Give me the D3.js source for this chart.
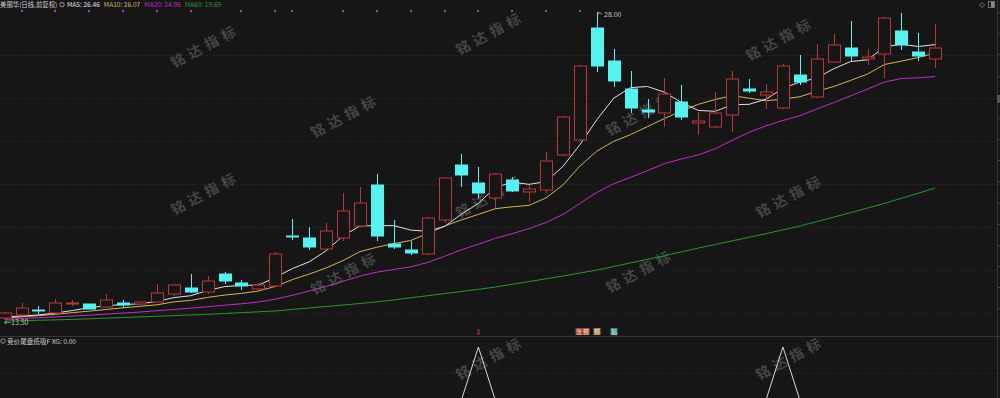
<!DOCTYPE html>
<html>
<head>
<meta charset="utf-8">
<script src="https://cdn.jsdelivr.net/npm/d3@7/dist/d3.min.js"></script>
<style>
  html, body { margin: 0; padding: 0; background: #161616; overflow: hidden; }
  svg { display: block; font-family: "Noto Sans CJK SC", "Noto Sans", sans-serif; }
</style>
</head>
<body>
<svg id="chart"></svg>
<script>
// daily bars, oldest first (prices)
const opens = [13.55, 13.69, 13.92, 13.78, 14.21, 14.21, 14.06, 14.25, 14.21, 14.30,
  14.68, 14.96, 14.77, 15.62, 15.20, 14.91, 15.06, 17.42, 17.32, 16.80,
  17.32, 17.89, 19.83, 17.04, 16.76, 16.57, 18.17, 20.77, 19.92, 19.21,
  20.06, 19.50, 19.59, 21.24, 21.95, 27.24, 25.69, 24.36, 23.37, 23.23,
  23.75, 22.76, 22.57, 23.13, 24.36, 24.08, 23.46, 25.02, 23.98, 25.64,
  26.30, 25.78, 26.02, 27.10, 26.11, 25.78];
const highs = [13.83, 14.25, 14.11, 14.44, 14.40, 14.23, 14.68, 14.40, 14.32, 15.15,
  15.15, 15.62, 15.53, 15.72, 15.34, 15.20, 16.66, 18.22, 17.84, 18.03,
  19.45, 19.73, 20.35, 18.17, 17.18, 18.30, 20.20, 21.29, 20.68, 20.40,
  20.21, 19.83, 21.39, 23.10, 25.50, 28.00, 26.25, 25.21, 23.89, 24.88,
  24.55, 23.28, 24.22, 25.21, 24.83, 24.60, 25.54, 25.97, 26.49, 26.96,
  27.57, 26.25, 27.75, 27.95, 27.01, 27.43];
const lows = [13.50, 13.64, 13.74, 13.78, 14.11, 13.95, 14.04, 14.02, 14.18, 14.28,
  14.58, 14.73, 14.68, 15.15, 14.87, 14.85, 15.00, 17.23, 16.76, 16.78,
  17.18, 17.85, 17.18, 16.80, 16.52, 16.50, 18.03, 19.73, 19.21, 18.74,
  19.50, 19.02, 19.45, 21.20, 21.90, 25.17, 24.46, 23.23, 23.00, 22.57,
  22.90, 22.19, 22.52, 22.33, 24.17, 23.42, 23.42, 24.55, 23.95, 25.59,
  25.64, 25.50, 24.88, 26.20, 25.69, 25.35];
const closes = [13.78, 14.02, 13.88, 14.25, 14.25, 13.97, 14.40, 14.16, 14.30, 14.73,
  15.10, 14.77, 15.29, 15.29, 15.06, 15.10, 16.57, 17.37, 16.90, 17.65,
  18.60, 18.98, 17.42, 16.90, 16.62, 18.27, 20.16, 20.30, 19.45, 20.35,
  19.54, 19.64, 20.96, 23.04, 25.45, 25.45, 24.74, 23.46, 23.28, 24.13,
  23.04, 22.85, 23.23, 24.83, 24.27, 24.22, 25.45, 24.69, 25.78, 26.44,
  25.92, 25.87, 27.72, 26.44, 25.92, 26.30];

// moving averages as drawn
const ma5 = [13.60, 13.64, 13.69, 13.78, 13.90, 14.03, 14.13, 14.18, 14.22, 14.33,
  14.51, 14.60, 14.85, 15.03, 15.09, 15.10, 15.46, 15.88, 16.20, 16.72,
  17.42, 17.90, 17.91, 17.91, 17.70, 17.64, 17.87, 18.45, 18.96, 19.71,
  19.96, 19.86, 19.99, 20.71, 21.73, 22.91, 23.93, 24.43, 24.48, 24.21,
  23.73, 23.35, 23.31, 23.62, 23.64, 23.88, 24.40, 24.69, 24.88, 25.32,
  25.66, 25.74, 26.35, 26.48, 26.37, 26.46];
const ma10 = [13.55, 13.60, 13.66, 13.72, 13.80, 13.87, 13.95, 14.03, 14.10, 14.17,
  14.31, 14.38, 14.52, 14.63, 14.71, 14.82, 15.04, 15.36, 15.62, 15.91,
  16.26, 16.68, 16.89, 17.06, 17.21, 17.53, 17.89, 18.18, 18.44, 18.71,
  18.80, 18.87, 19.22, 19.83, 20.72, 21.43, 21.89, 22.21, 22.59, 22.97,
  23.32, 23.64, 23.87, 24.05, 23.93, 23.81, 23.88, 24.00, 24.25, 24.48,
  24.77, 25.07, 25.52, 25.68, 25.85, 26.07];
const ma20 = [13.48, 13.52, 13.56, 13.60, 13.64, 13.68, 13.73, 13.78, 13.83, 13.89,
  13.95, 14.01, 14.08, 14.15, 14.22, 14.30, 14.44, 14.62, 14.82, 15.04,
  15.28, 15.53, 15.71, 15.84, 15.96, 16.17, 16.46, 16.77, 17.03, 17.31,
  17.53, 17.77, 18.06, 18.44, 18.96, 19.48, 19.89, 20.19, 20.51, 20.84,
  21.06, 21.25, 21.54, 21.94, 22.32, 22.62, 22.88, 23.10, 23.42, 23.72,
  24.04, 24.36, 24.69, 24.86, 24.89, 24.95];
const ma60 = [13.40, 13.42, 13.44, 13.46, 13.48, 13.51, 13.54, 13.57, 13.60, 13.63,
  13.66, 13.69, 13.72, 13.76, 13.80, 13.84, 13.88, 13.95, 14.02, 14.09,
  14.16, 14.23, 14.31, 14.40, 14.50, 14.60, 14.70, 14.80, 14.90, 15.01,
  15.14, 15.27, 15.40, 15.53, 15.67, 15.81, 15.98, 16.15, 16.32, 16.49,
  16.67, 16.85, 17.02, 17.19, 17.36, 17.53, 17.71, 17.89, 18.10, 18.31,
  18.52, 18.74, 18.96, 19.20, 19.44, 19.69];

// lower indicator XG (0/1) and the purple marks along the top
const xgSignal = [0,0,0,0,0,0,0,0,0,0, 0,0,0,0,0,0,0,0,0,0, 0,0,0,0,0,0,0,0,1,0,
  0,0,0,0,0,0,0,0,0,0, 0,0,0,0,0,0,1,0,0,0, 0,0,0,0,0,0];
const topMarks = [0,1,0,1,0,1,0,1,0,1, 0,1,0,0,1,0,1,1,0,0, 1,0,1,0,1,0,1,0,1,0,
  1,0,1,0,1,0,0,0,0,0, 0,0,0,0,0,0,0,0,0,0, 0,0,0,0,0,0];

// signal tags above the lower panel: bar index, text, colour group
const tagBars = [34, 34, 35, 36];
const tagTexts = ["涨", "预", "预", "贴"];
const tagKinds = ["red", "orange", "tan", "teal"];

const maNames = ["MA5", "MA10", "MA20", "MA60"];
const maLast = [26.46, 26.07, 24.95, 19.69];
const stockTitle = "美丽华(日线,前复权)";
const xgTitle = "竞价尾盘低吸F";
const xgLast = 0.00;
const gridLevels = [25.97, 23.94, 21.91, 19.88, 17.84, 15.81, 13.78];
const watermark = "铭达指标";

class KLineChart {
    constructor(_config) {
        this.config = {
            parentElement: _config.parentElement,
            width: _config.width || 1000,
            height: _config.height || 398,
            mainBottom: 336,
            barWidth: 12
        };
        this.initVis();
    }

    initVis() {
        let vis = this;
        vis.svg = d3.select(vis.config.parentElement)
            .attr('width', vis.config.width)
            .attr('height', vis.config.height);

        vis.svg.append('rect')
            .attr('width', vis.config.width)
            .attr('height', vis.config.height)
            .attr('fill', '#161616');

        vis.n = closes.length;
        // bar centres run from the cut-off first bar to the last one at the right
        vis.x = d3.scaleLinear().domain([0, vis.n - 1]).range([4.6, 935.2]);
        vis.y = d3.scaleLinear().domain([13.5, 28]).range([319, 12]);
        vis.y2 = d3.scaleLinear().domain([0, 1]).range([400, 347]);

        vis.colors = {
            up: '#b8373a', down: '#55f2f2',
            ma: ['#e2e2e2', '#cdb85a', '#bb32bf', '#2c942f'],
            tag: {red: '#a8383a', orange: '#b0543a', tan: '#9c7a4c', teal: '#2f8a90'}
        };

        vis.updateVis();
    }

    updateVis() {
        let vis = this;
        vis.bars = d3.range(vis.n).map(i => ({
            i: i, open: opens[i], high: highs[i], low: lows[i], close: closes[i],
            up: closes[i] >= opens[i]
        }));
        vis.maSeries = [ma5, ma10, ma20, ma60];
        vis.renderVis();
    }

    renderVis() {
        let vis = this;
        const W = vis.config.width;
        const bw = vis.config.barWidth;

        // grid
        vis.svg.append('g').selectAll('line')
            .data(gridLevels)
            .join('line')
            .attr('x1', 0).attr('x2', 997)
            .attr('y1', d => Math.round(vis.y(d)) + 0.5)
            .attr('y2', d => Math.round(vis.y(d)) + 0.5)
            .attr('stroke', '#2c2c2c')
            .attr('stroke-dasharray', '1,2');

        vis.svg.append('line')
            .attr('x1', 0).attr('x2', 997)
            .attr('y1', 373.5).attr('y2', 373.5)
            .attr('stroke', '#2c2c2c')
            .attr('stroke-dasharray', '1,2');

        // panel separators
        vis.svg.append('line')
            .attr('x1', 0).attr('x2', W)
            .attr('y1', vis.config.mainBottom + 0.5).attr('y2', vis.config.mainBottom + 0.5)
            .attr('stroke', '#363636');
        vis.svg.append('line')
            .attr('x1', 997.5).attr('x2', 997.5)
            .attr('y1', 0).attr('y2', vis.config.height)
            .attr('stroke', '#363636');

        // little ticks on the right edge, one per price unit
        vis.svg.append('g').selectAll('line')
            .data(d3.range(14, 29))
            .join('line')
            .attr('x1', 997).attr('x2', 1000)
            .attr('y1', d => Math.round(vis.y(d)) + 0.5)
            .attr('y2', d => Math.round(vis.y(d)) + 0.5)
            .attr('stroke', '#3c3c3c');

        // watermarks
        const wmSpots = [[205, 45], [490, 32], [780, 38], [345, 115], [640, 113],
            [205, 192], [490, 195], [790, 195], [345, 272], [640, 270], [490, 357], [790, 357]];
        vis.svg.append('g').selectAll('text')
            .data(wmSpots)
            .join('text')
            .attr('transform', d => `translate(${d[0]},${d[1]}) rotate(-28)`)
            .attr('text-anchor', 'middle')
            .attr('dominant-baseline', 'central')
            .attr('font-size', 14)
            .attr('font-weight', 'bold')
            .attr('letter-spacing', 5)
            .attr('fill', '#454545')
            .text(watermark);

        const main = vis.svg.append('g');

        // MA60 / MA20 / MA10 / MA5 lines
        const line = d3.line()
            .x((d, i) => vis.x(i))
            .y(d => vis.y(d));
        main.selectAll('.ma')
            .data(vis.maSeries.slice().reverse())
            .join('path')
            .attr('class', 'ma')
            .attr('d', line)
            .attr('fill', 'none')
            .attr('stroke', (d, i) => vis.colors.ma[3 - i])
            .attr('stroke-width', 1);

        // candles
        const candle = main.selectAll('.candle')
            .data(vis.bars)
            .join('g')
            .attr('class', 'candle');

        const cx = d => Math.round(vis.x(d.i)) + 0.5;
        const top = d => Math.round(vis.y(Math.max(d.open, d.close)));
        const bot = d => Math.round(vis.y(Math.min(d.open, d.close)));

        // upper wick
        candle.append('line')
            .attr('x1', cx).attr('x2', cx)
            .attr('y1', d => Math.round(vis.y(d.high)))
            .attr('y2', d => top(d))
            .attr('stroke', d => d.up ? vis.colors.up : vis.colors.down);
        // lower wick
        candle.append('line')
            .attr('x1', cx).attr('x2', cx)
            .attr('y1', d => bot(d))
            .attr('y2', d => Math.round(vis.y(d.low)))
            .attr('stroke', d => d.up ? vis.colors.up : vis.colors.down);
        // body
        candle.append('rect')
            .attr('x', d => cx(d) - bw / 2)
            .attr('y', d => top(d))
            .attr('width', bw)
            .attr('height', d => Math.max(1, bot(d) - top(d)))
            .attr('fill', d => d.up ? '#161616' : vis.colors.down)
            .attr('stroke', d => d.up ? vis.colors.up : vis.colors.down)
            .attr('stroke-width', 1);

        // top purple marks
        vis.svg.append('g').selectAll('rect')
            .data(topMarks.map((v, i) => ({v: v, i: i})).filter(d => d.v === 1))
            .join('rect')
            .attr('x', d => Math.round(vis.x(d.i)) - 1)
            .attr('y', 10)
            .attr('width', 2).attr('height', 2)
            .attr('fill', '#b03bc0');

        // high / low labels
        const hiIdx = d3.maxIndex(highs);
        const loIdx = d3.minIndex(lows);
        const hx = Math.round(vis.x(hiIdx)) + 1;
        const hy = Math.round(vis.y(highs[hiIdx]));
        vis.svg.append('path')
            .attr('d', `M${hx},${hy + 3} L${hx},${hy} L${hx + 4},${hy + 2}`)
            .attr('fill', 'none').attr('stroke', '#aaa').attr('stroke-width', 0.8);
        vis.svg.append('text')
            .attr('x', hx + 6).attr('y', hy + 5)
            .attr('font-size', 7).attr('fill', '#c4c4c4')
            .text(highs[hiIdx].toFixed(2));
        vis.svg.append('text')
            .attr('x', Math.max(1, Math.round(vis.x(loIdx)) - 1)).attr('y', Math.round(vis.y(lows[loIdx])) + 6)
            .attr('font-size', 7).attr('fill', '#bbb')
            .text('\u2190' + lows[loIdx].toFixed(2));

        // signal tags just above the separator
        const xgIdx = xgSignal.map((v, i) => v === 1 ? i : -1).filter(i => i >= 0);
        vis.svg.append('g').selectAll('text')
            .data(xgIdx.slice(0, 1))
            .join('text')
            .attr('x', d => vis.x(d)).attr('y', 334)
            .attr('text-anchor', 'middle')
            .attr('font-size', 6).attr('font-weight', 'bold')
            .attr('fill', '#e0302c')
            .text('$');

        const tagData = tagBars.map((b, k) => ({b: b, t: tagTexts[k], kind: tagKinds[k], k: k}));
        const tags = vis.svg.append('g').selectAll('g')
            .data(tagData)
            .join('g')
            .attr('transform', d => {
                // two tags on the same bar sit side by side
                const same = tagData.filter(e => e.b === d.b);
                const pos = same.indexOf(d);
                const off = same.length > 1 ? (pos - 0.5) * 7 + 3 : 0;
                return `translate(${Math.round(vis.x(d.b) + off) - 3.5},328)`;
            });
        tags.append('rect')
            .attr('width', 7).attr('height', 7)
            .attr('fill', d => vis.colors.tag[d.kind]);
        tags.append('text')
            .attr('x', 3.5).attr('y', 6)
            .attr('text-anchor', 'middle')
            .attr('font-size', 6)
            .attr('fill', '#f0e0d0')
            .text(d => d.t);

        // lower panel XG line
        const low = vis.svg.append('g');
        low.append('clipPath').attr('id', 'lowclip')
            .append('rect').attr('x', 0).attr('y', vis.config.mainBottom + 1)
            .attr('width', 997).attr('height', vis.config.height - vis.config.mainBottom);
        low.append('path')
            .datum(xgSignal)
            .attr('clip-path', 'url(#lowclip)')
            .attr('d', d3.line().x((d, i) => vis.x(i)).y(d => vis.y2(d)))
            .attr('fill', 'none')
            .attr('stroke', '#d8d8d8')
            .attr('stroke-width', 1);

        // legends
        vis.svg.append('text')
            .attr('x', 0).attr('y', 7)
            .attr('font-size', 6.4)
            .attr('fill', '#cfcfcf')
            .text(stockTitle);
        vis.svg.append('circle')
            .attr('cx', 62).attr('cy', 4.6).attr('r', 2.2)
            .attr('fill', 'none').attr('stroke', '#999').attr('stroke-width', 1);
        const lg2 = vis.svg.append('text')
            .attr('x', 67).attr('y', 7)
            .attr('font-size', 6.6);
        maNames.forEach((name, k) => {
            lg2.append('tspan')
                .attr('dx', k === 0 ? 0 : 4)
                .attr('fill', vis.colors.ma[k])
                .text(`${name}: ${maLast[k].toFixed(2)}`);
        });

        vis.svg.append('circle')
            .attr('cx', 3).attr('cy', 341).attr('r', 2.2)
            .attr('fill', 'none').attr('stroke', '#999').attr('stroke-width', 1);
        vis.svg.append('text')
            .attr('x', 7).attr('y', 343.5)
            .attr('font-size', 6.6)
            .attr('fill', '#cfcfcf')
            .text(`${xgTitle} XG: ${xgLast.toFixed(2)}`);

        // top-right icons and the clipped price tag on the axis edge
        vis.svg.append('path')
            .attr('d', 'M982,2.5 L984.5,5 L982,7.5 L979.5,5 Z')
            .attr('fill', 'none').attr('stroke', '#888').attr('stroke-width', 0.8);
        vis.svg.append('rect')
            .attr('x', 988.5).attr('y', 1.5).attr('width', 6).attr('height', 6)
            .attr('fill', 'none').attr('stroke', '#888').attr('stroke-width', 0.8);
        vis.svg.append('rect')
            .attr('x', 991).attr('y', 2).attr('width', 3).attr('height', 5)
            .attr('fill', '#888');
        vis.svg.append('rect')
            .attr('x', 997).attr('y', Math.round(vis.y(closes[vis.n - 1])) + 47)
            .attr('width', 4).attr('height', 8)
            .attr('fill', '#555');
    }
}

new KLineChart({parentElement: '#chart'});
</script>
</body>
</html>
